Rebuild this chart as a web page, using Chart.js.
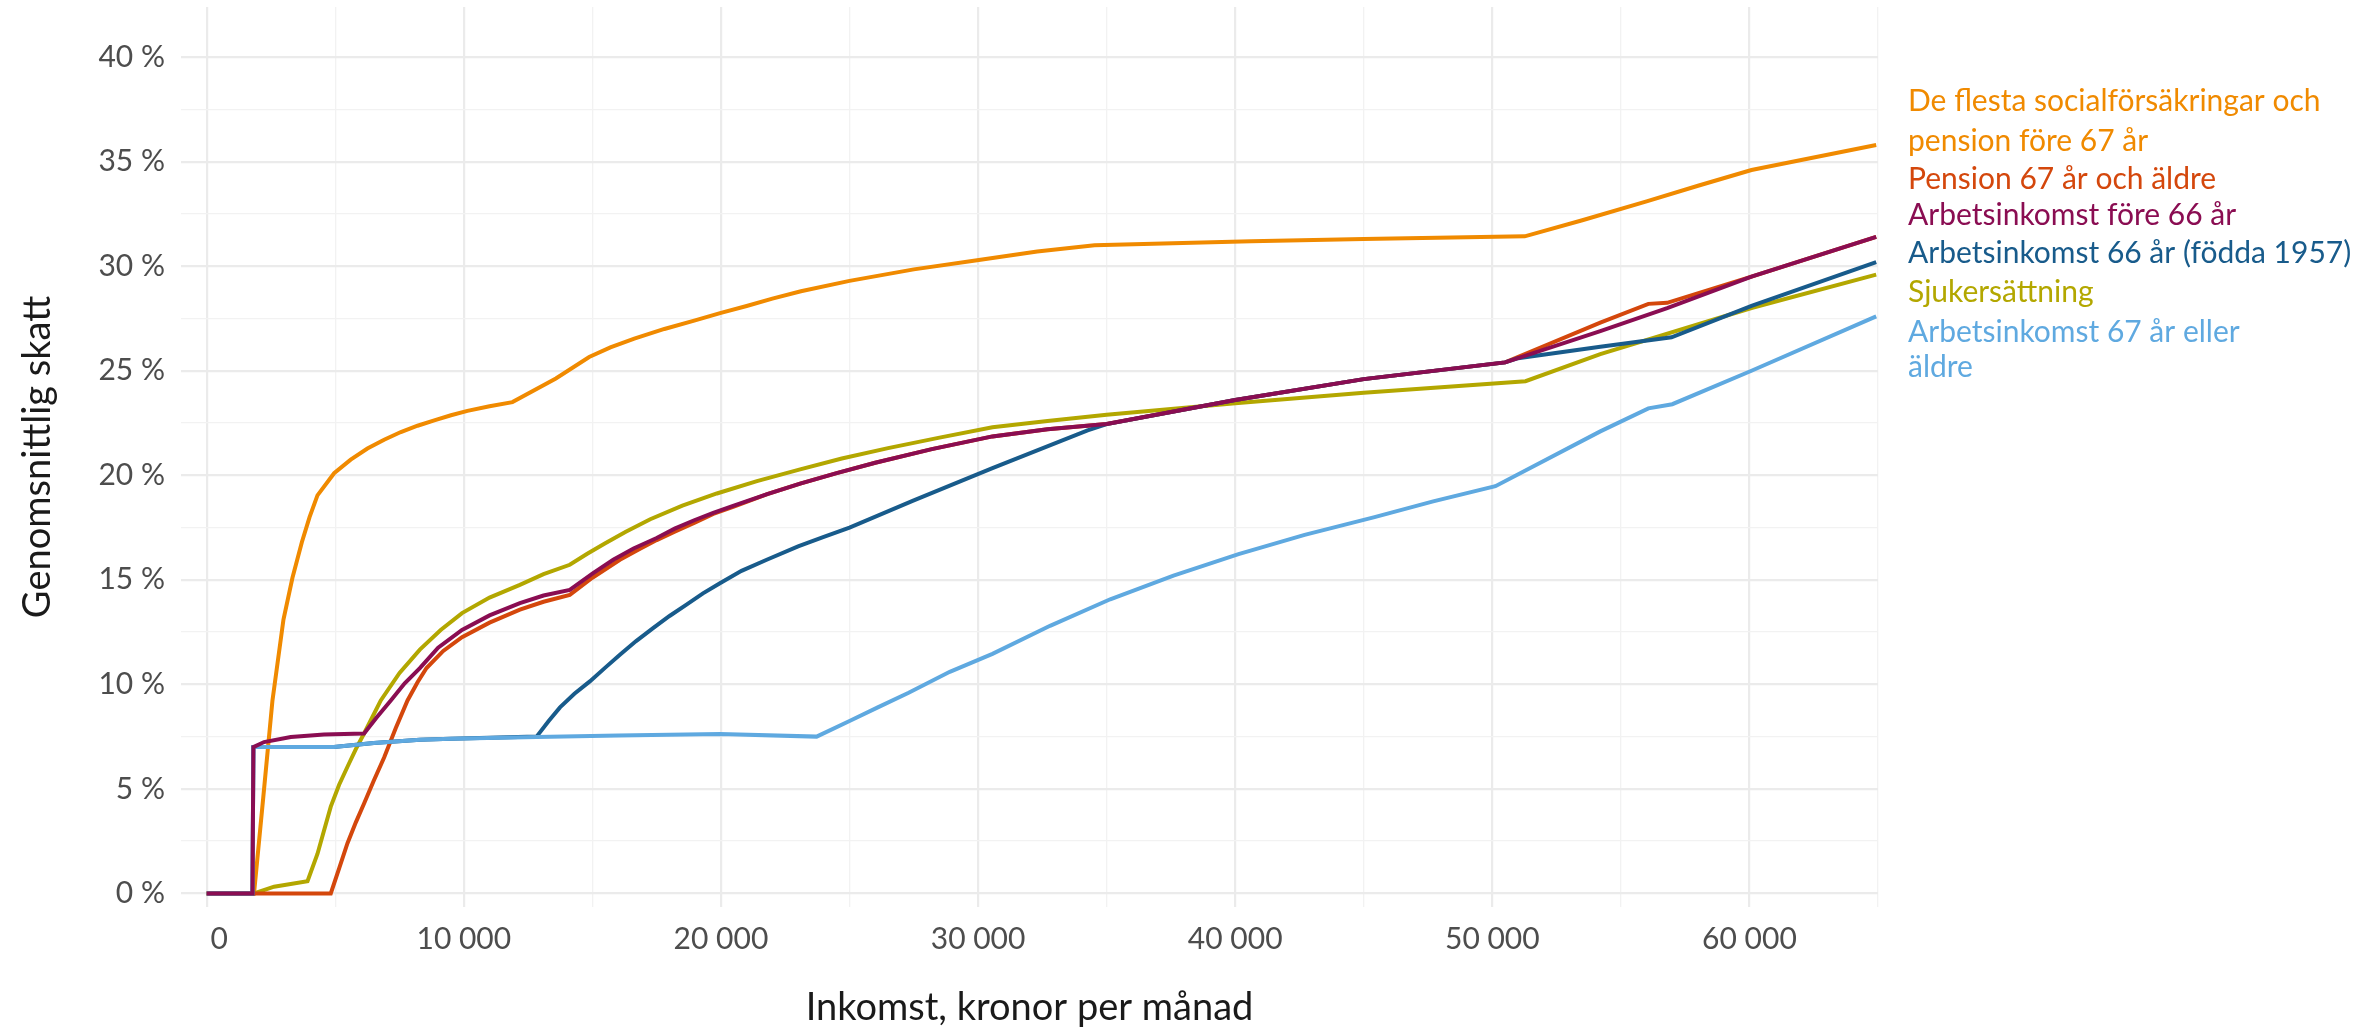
<!DOCTYPE html>
<html><head><meta charset="utf-8">
<script src="https://cdn.jsdelivr.net/npm/chart.js@4.4.1/dist/chart.umd.min.js"></script>
<style>html,body{margin:0;padding:0;background:#fff}#wrap{width:2366px;height:1033px;position:relative}</style>
</head><body><div id="wrap"><canvas id="c"></canvas></div>
<script>
// ---- Data (income in kronor per month, average tax in %) ----
const seriesNames = [
  "De flesta socialförsäkringar och pension före 67 år",
  "Pension 67 år och äldre",
  "Arbetsinkomst före 66 år",
  "Arbetsinkomst 66 år (födda 1957)",
  "Sjukersättning",
  "Arbetsinkomst 67 år eller äldre"
];

const socialIncome = [0,1840,2200,2555,2985,3335,3700,4000,4307,4955,5600,6250,6900,7550,8200,8850,9500,10140,11000,11890,13580,14875,15700,16630,17800,18960,20000,21000,22000,23110,25000,27500,30030,32300,34530,40620,45000,51260,53500,56000,58000,60080,62500,64930];
const socialTax    = [0,0,4.6,9.2,13.1,15.1,16.8,18.0,19.04,20.1,20.75,21.28,21.7,22.07,22.37,22.63,22.87,23.08,23.3,23.5,24.63,25.66,26.12,26.54,27.0,27.4,27.77,28.1,28.45,28.8,29.3,29.85,30.3,30.7,31.0,31.2,31.3,31.43,32.2,33.1,33.85,34.6,35.2,35.8];

const pensionIncome = [0,4825,5150,5475,5800,6120,6500,6900,7350,7810,8200,8550,9200,9930,11000,12180,13100,14120,15000,16070,16800,17500,18200,19000,19700,20500,21800,23080,24500,26000,28200,30560,32700,35000,40000,45000,50500,54200,56070,56800,60080,64930];
const pensionTax    = [0,0,1.2,2.4,3.4,4.3,5.4,6.5,7.9,9.23,10.1,10.78,11.6,12.26,12.95,13.57,13.95,14.28,15.1,15.96,16.45,16.9,17.3,17.75,18.15,18.5,19.1,19.6,20.1,20.6,21.25,21.86,22.2,22.45,23.6,24.6,25.4,27.3,28.2,28.25,29.5,31.4];

const workUnder66Income = [0,1780,1815,2230,3270,4560,6120,6600,7160,7700,8290,9000,9930,11000,12180,13100,14120,15000,15810,16600,17500,18200,18960,19700,20500,21800,23080,24500,26000,28200,30560,32700,35000,40000,45000,50500,54200,56800,60080,64930];
const workUnder66Tax    = [0,0,7.0,7.24,7.48,7.6,7.65,8.4,9.23,10.05,10.78,11.75,12.6,13.3,13.89,14.25,14.52,15.3,15.96,16.5,17.0,17.45,17.85,18.2,18.55,19.1,19.6,20.1,20.6,21.25,21.86,22.2,22.45,23.6,24.6,25.4,26.9,28.0,29.5,31.4];

const work66Income = [0,1780,1815,4950,6500,8290,9500,12830,13300,13740,14300,14900,15500,16070,16700,17360,18000,18660,19300,19960,20800,21780,23000,24000,25000,27500,30560,34260,35000,40000,45000,50500,51000,54200,56970,60080,64930];
const work66Tax    = [0,0,7.0,7.0,7.2,7.35,7.4,7.5,8.25,8.9,9.55,10.14,10.8,11.42,12.07,12.69,13.27,13.81,14.35,14.84,15.43,15.96,16.6,17.05,17.5,18.8,20.34,22.15,22.45,23.6,24.6,25.4,25.6,26.15,26.6,28.1,30.2];

const sickIncome = [0,1840,2620,3920,4310,4560,4825,5150,5475,5800,6120,6450,6770,7500,8290,9100,9930,11000,12180,13100,14120,14800,15500,16300,17250,18500,19840,21400,23080,24700,26500,28500,30560,32700,35000,40000,45000,51290,54200,60080,64930];
const sickTax    = [0,0,0.32,0.58,1.9,3.0,4.15,5.2,6.06,6.9,7.65,8.45,9.23,10.55,11.66,12.6,13.41,14.15,14.76,15.27,15.72,16.25,16.75,17.3,17.9,18.55,19.13,19.72,20.28,20.8,21.3,21.8,22.3,22.6,22.9,23.45,23.95,24.5,25.8,28.0,29.6];

const work67Income = [0,1780,1815,4950,6500,8290,9500,12830,16000,19960,23720,25000,26100,27300,28900,30560,32800,35140,37600,40130,42700,45420,47700,50120,54200,56070,57000,60080,64930];
const work67Tax    = [0,0,7.0,7.0,7.2,7.35,7.4,7.48,7.55,7.62,7.5,8.25,8.9,9.6,10.6,11.46,12.8,14.07,15.2,16.23,17.15,18.0,18.75,19.48,22.1,23.2,23.4,25.0,27.6];

const xTickValues = [0,5000,10000,15000,20000,25000,30000,35000,40000,45000,50000,55000,60000,65000];
const yTickValues = [0,2.5,5,7.5,10,12.5,15,17.5,20,22.5,25,27.5,30,32.5,35,37.5,40];

// ---- Styling ----
const colors = ['#F08A00','#D4470C','#8A0D52','#185B8B','#B3A700','#5FA9E0'];
const drawOrder = [6,4,1,3,5,2]; // lower = drawn on top
const labelLines = [
  ["De flesta socialförsäkringar och","pension före 67 år"],
  ["Pension 67 år och äldre"],
  ["Arbetsinkomst före 66 år"],
  ["Arbetsinkomst 66 år (födda 1957)"],
  ["Sjukersättning"],
  ["Arbetsinkomst 67 år eller","äldre"]
];
const labelAnchors = [[37.89,35.98],[34.16],[32.44],[30.62],[28.76],[26.84,25.17]];

const incomes = [socialIncome,pensionIncome,workUnder66Income,work66Income,sickIncome,work67Income];
const taxes = [socialTax,pensionTax,workUnder66Tax,work66Tax,sickTax,work67Tax];

const datasets = seriesNames.map((name,i)=>({
  label: name,
  data: incomes[i].map((x,j)=>({x:x,y:taxes[i][j]})),
  borderColor: colors[i],
  backgroundColor: colors[i],
  borderWidth: 4,
  pointRadius: 0,
  tension: 0,
  fill: false,
  order: drawOrder[i]
}));

const endLabels = {
  id:'endLabels',
  afterDatasetsDraw(chart){
    const {ctx, chartArea, scales} = chart;
    ctx.save();
    ctx.font = '30px Lato';
    ctx.textAlign = 'left';
    ctx.textBaseline = 'middle';
    labelLines.forEach((lines,i)=>{
      ctx.fillStyle = colors[i];
      lines.forEach((t,k)=>{
        ctx.fillText(t, chartArea.right + 30, scales.y.getPixelForValue(labelAnchors[i][k]));
      });
    });
    ctx.restore();
  }
};

const isMajorX = v => v % 10000 === 0;
const isMajorY = v => v % 5 === 0;

new Chart(document.getElementById('c'), {
  type:'line',
  data:{datasets},
  plugins:[endLabels],
  options:{
    responsive:true, maintainAspectRatio:false, devicePixelRatio:1, animation:false,
    layout:{padding:{left:0,right:488,top:7,bottom:0}},
    plugins:{legend:{display:false},tooltip:{enabled:false}},
    scales:{
      x:{
        type:'linear', min:-1000, max:65000,
        afterBuildTicks: s => { s.ticks = xTickValues.map(v=>({value:v})); },
        afterFit: s => { s.height = 126; s.paddingLeft = 0; s.paddingRight = 0; },
        border:{display:false},
        grid:{drawTicks:false,
          color: c => (c.tick && isMajorX(c.tick.value)) ? '#EBEBEB' : '#F2F2F2',
          lineWidth: c => (c.tick && isMajorX(c.tick.value)) ? 2.2 : 1.3},
        ticks:{autoSkip:false, maxRotation:0, padding:14, color:'#4D4D4D',
          font:{family:'Lato',size:30},
          callback: v => v === 0 ? '\u2007 0' : (isMajorX(v) ? String(v).replace(/\B(?=(\d{3})+(?!\d))/g,' ') : '')},
        title:{display:true, text:'Inkomst, kronor per månad', color:'#1a1a1a',
          font:{family:'Lato',size:38}, padding:{top:0,bottom:2}}
      },
      y:{
        type:'linear', min:-0.65, max:42.4,
        afterBuildTicks: s => { s.ticks = yTickValues.map(v=>({value:v})); },
        afterFit: s => { s.width = 181; s.paddingTop = 0; s.paddingBottom = 0; },
        border:{display:false},
        grid:{drawTicks:false,
          color: c => (c.tick && isMajorY(c.tick.value)) ? '#EBEBEB' : '#F2F2F2',
          lineWidth: c => (c.tick && isMajorY(c.tick.value)) ? 2.2 : 1.3},
        ticks:{autoSkip:false, padding:16, color:'#4D4D4D',
          font:{family:'Lato',size:30},
          callback: v => isMajorY(v) ? v + ' %' : ''},
        title:{display:true, text:'Genomsnittlig skatt', color:'#1a1a1a',
          font:{family:'Lato',size:38}, padding:{top:15,bottom:0}}
      }
    }
  }
});
</script></body></html>
